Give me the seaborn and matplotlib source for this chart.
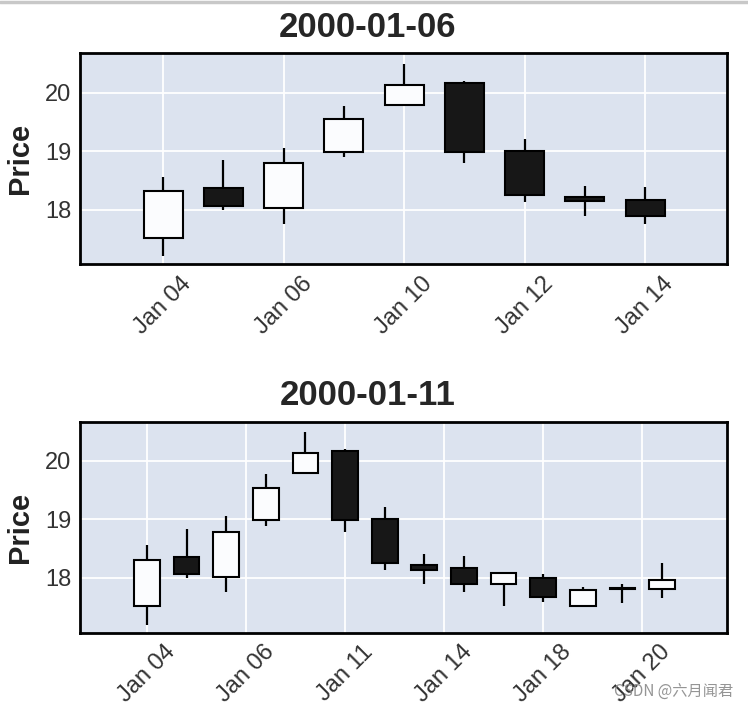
import pandas as pd
import numpy as np
import matplotlib
matplotlib.use('Agg')
import matplotlib.pyplot as plt
import matplotlib.ticker as mticker
from matplotlib.lines import Line2D
import seaborn as sb

# daily OHLC values
dates = pd.to_datetime(['2000-01-04', '2000-01-05', '2000-01-06', '2000-01-07',
                        '2000-01-10', '2000-01-11', '2000-01-12', '2000-01-13',
                        '2000-01-14', '2000-01-17', '2000-01-18', '2000-01-19',
                        '2000-01-20', '2000-01-21'])
opens = [17.51, 18.36, 18.02, 18.99, 19.79, 20.16, 19.00, 18.22, 18.16, 17.89, 18.00, 17.51, 17.81, 17.81]
highs = [18.56, 18.84, 19.05, 19.77, 20.49, 20.20, 19.21, 18.41, 18.38, 18.10, 18.07, 17.84, 17.89, 18.25]
lows = [17.20, 17.99, 17.76, 18.89, 19.77, 18.79, 18.13, 17.89, 17.76, 17.51, 17.59, 17.51, 17.57, 17.66]
closes = [18.31, 18.06, 18.79, 19.54, 20.13, 18.99, 18.25, 18.14, 17.89, 18.08, 17.68, 17.80, 17.82, 17.97]

titles = ['2000-01-06', '2000-01-11']
counts = [9, 14]

df = pd.DataFrame({'date': dates, 'open': opens, 'high': highs, 'low': lows, 'close': closes})

sb.set_theme(style='darkgrid', rc={'axes.facecolor': '#DCE3EF', 'grid.color': 'white',
                                   'grid.linewidth': 1.3, 'axes.edgecolor': 'black',
                                   'axes.linewidth': 2.0})
plt.rcParams['font.family'] = ['Liberation Sans', 'DejaVu Sans']

fig = plt.figure(figsize=(7.48, 7.11), dpi=100)
ax1 = fig.add_axes([0.107, 0.628, 0.865, 0.297])
ax2 = fig.add_axes([0.107, 0.110, 0.865, 0.297])


def candles(ax, d, title, step, xlim):
    x = np.arange(len(d))
    up = d['close'] >= d['open']
    ax.vlines(x, d['low'], d['high'], color='black', linewidth=1.6, zorder=2)
    ax.bar(x, (d['close'] - d['open']).abs(), bottom=d[['open', 'close']].min(axis=1),
           width=0.65, color=np.where(up, '#fbfcfe', '#171717'),
           edgecolor='black', linewidth=1.5, zorder=3)
    ax.set_xlim(xlim)
    ax.set_ylim(17.06, 20.67)
    ax.set_yticks([18, 19, 20])
    ax.xaxis.set_major_locator(mticker.MultipleLocator(step))

    def fmt(v, pos):
        i = int(round(v))
        if 0 <= i < len(d):
            return d['date'].iloc[i].strftime('%b %d')
        return ''
    ax.xaxis.set_major_formatter(mticker.FuncFormatter(fmt))
    ax.tick_params(axis='x', rotation=45, length=0, pad=6, labelsize=17, colors='#333333')
    ax.tick_params(axis='y', length=0, pad=6.5, labelsize=17, colors='#333333')
    ax.set_ylabel('Price', fontsize=21, fontweight='bold', labelpad=8, color='#222222')
    ax.set_title(title, fontsize=25, fontweight='bold', x=0.445, pad=12, color='#262626')
    for s in ax.spines.values():
        s.set_visible(True)
        s.set_color('black')
        s.set_linewidth(2.0)


candles(ax1, df.iloc[:counts[0]], titles[0], 2, (-1.38, 9.36))
candles(ax2, df.iloc[:counts[1]], titles[1], 2.5, (-1.69, 14.64))

fig.add_artist(Line2D([0, 1], [0.997, 0.997], color='#c8c8c8', linewidth=2.5))
fig.text(0.98, 0.027, 'CSDN @六月闻君', ha='right', va='center', fontsize=11, color='#8a8a8a',
         alpha=0.9, family=['Noto Sans CJK SC', 'DejaVu Sans'])

fig.savefig('out.png', dpi=100)
